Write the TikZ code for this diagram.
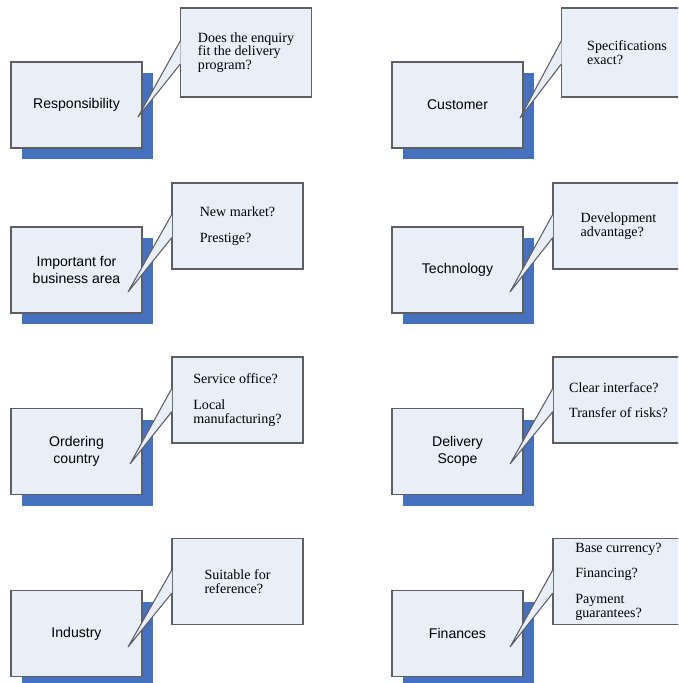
\documentclass[tikz,border=0pt]{standalone}
\usepackage{fontspec}
\setmainfont{Liberation Serif}
\setsansfont{Liberation Sans}
\usetikzlibrary{positioning, shadows}

\definecolor{boxfill}{HTML}{E8EFF8}
\definecolor{boxline}{HTML}{5E5E63}
\definecolor{shadowblue}{HTML}{4571BF}

\tikzset{
    topic/.style={
        draw=boxline, line width=0.9pt, fill=boxfill,
        minimum width=3.93cm, minimum height=2.58cm, inner sep=0pt,
        align=center, font=\sffamily\fontsize{12}{14.5}\selectfont,
        drop shadow={shadow xshift=0.33cm, shadow yshift=-0.33cm,
                     fill=shadowblue, opacity=1}
    },
    question/.style={
        draw=boxline, line width=0.9pt, fill=boxfill,
        minimum width=3.93cm, minimum height=2.58cm, inner sep=0pt,
        align=left, font=\fontsize{12}{11.8}\selectfont
    },
    tail/.style={draw=boxline, line width=0.9pt, fill=boxfill}
}

\begin{document}
\begin{tikzpicture}[x=0.03cm, y=-0.03cm]
    \useasboundingbox (0,0) rectangle (678,683);
    \clip (0,0) rectangle (678,683);

    % left column
    \node[topic] (resp) at (76.5,105) {Responsibility};
    \node[question, minimum height=2.67cm] (respq) at (246,52.5)
        {Does the enquiry\\fit the delivery\\program?};
    \coordinate (resptip) at (138,117);
    \filldraw[tail] ([xshift=0.45pt,yshift=0.33cm]respq.west) -- ([yshift=0.33cm]respq.west)
        -- (resptip) -- ([yshift=-0.36cm]respq.west) -- ([xshift=0.45pt,yshift=-0.36cm]respq.west);

    \node[topic] (area) at (76.5,270) {Important for\\business area};
    \node[question] (areaq) at (237.5,226) {New market?\\[10pt]Prestige?};
    \coordinate (areatip) at (128,292);
    \filldraw[tail] ([xshift=0.45pt,yshift=0.33cm]areaq.west) -- ([yshift=0.33cm]areaq.west)
        -- (areatip) -- ([yshift=-0.36cm]areaq.west) -- ([xshift=0.45pt,yshift=-0.36cm]areaq.west);

    \node[topic] (ctry) at (76.5,451.5) {Ordering\\country};
    \node[question] (ctryq) at (237.5,400) {Service office?\\[10pt]Local\\manufacturing?};
    \coordinate (ctrytip) at (130,464);
    \filldraw[tail] ([xshift=0.45pt,yshift=0.33cm]ctryq.west) -- ([yshift=0.33cm]ctryq.west)
        -- (ctrytip) -- ([yshift=-0.36cm]ctryq.west) -- ([xshift=0.45pt,yshift=-0.36cm]ctryq.west);

    \node[topic] (ind) at (76.5,633.5) {Industry};
    \node[question] (indq) at (237.5,581.5) {Suitable for\\reference?};
    \coordinate (indtip) at (128,647);
    \filldraw[tail] ([xshift=0.45pt,yshift=0.33cm]indq.west) -- ([yshift=0.33cm]indq.west)
        -- (indtip) -- ([yshift=-0.36cm]indq.west) -- ([xshift=0.45pt,yshift=-0.36cm]indq.west);

    % right column
    \node[topic] (cust) at (457.5,105) {Customer};
    \node[question, minimum height=2.67cm] (custq) at (627,52.5) {Specifications\\exact?};
    \coordinate (custtip) at (520,118);
    \filldraw[tail] ([xshift=0.45pt,yshift=0.33cm]custq.west) -- ([yshift=0.33cm]custq.west)
        -- (custtip) -- ([yshift=-0.36cm]custq.west) -- ([xshift=0.45pt,yshift=-0.36cm]custq.west);

    \node[topic] (tech) at (457.5,270) {Technology};
    \node[question] (techq) at (618.5,226) {Development\\advantage?};
    \coordinate (techtip) at (510,292);
    \filldraw[tail] ([xshift=0.45pt,yshift=0.33cm]techq.west) -- ([yshift=0.33cm]techq.west)
        -- (techtip) -- ([yshift=-0.36cm]techq.west) -- ([xshift=0.45pt,yshift=-0.36cm]techq.west);

    \node[topic] (scope) at (457.5,451.5) {Delivery\\Scope};
    \node[question] (scopeq) at (618.5,400) {Clear interface?\\[10pt]Transfer of risks?};
    \coordinate (scopetip) at (510,464);
    \filldraw[tail] ([xshift=0.45pt,yshift=0.33cm]scopeq.west) -- ([yshift=0.33cm]scopeq.west)
        -- (scopetip) -- ([yshift=-0.36cm]scopeq.west) -- ([xshift=0.45pt,yshift=-0.36cm]scopeq.west);

    \node[topic] (fin) at (457.5,633.5) {Finances};
    \node[question] (finq) at (618.5,581.5)
        {Base currency?\\[10pt]Financing?\\[10pt]Payment\\guarantees?};
    \coordinate (fintip) at (510,647);
    \filldraw[tail] ([xshift=0.45pt,yshift=0.33cm]finq.west) -- ([yshift=0.33cm]finq.west)
        -- (fintip) -- ([yshift=-0.36cm]finq.west) -- ([xshift=0.45pt,yshift=-0.36cm]finq.west);
\end{tikzpicture}
\end{document}
